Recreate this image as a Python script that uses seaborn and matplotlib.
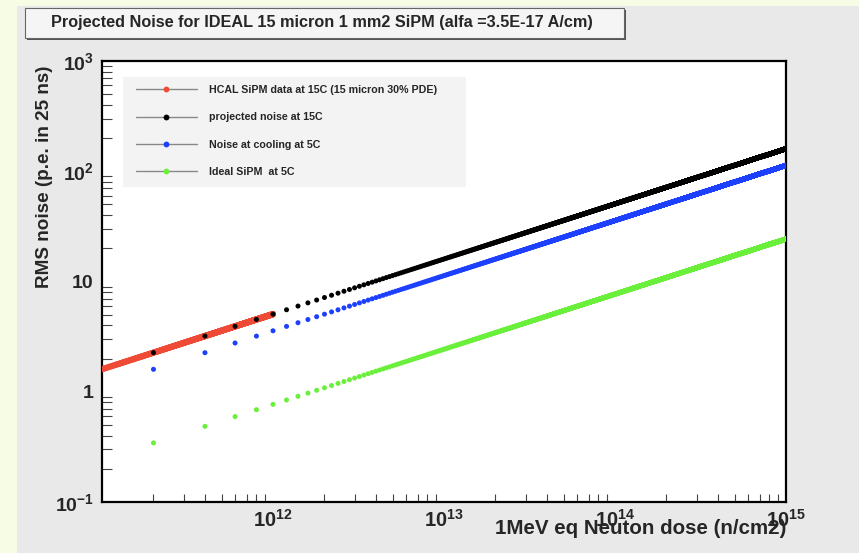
import numpy as np
import pandas as pd
import matplotlib
matplotlib.use("Agg")
import matplotlib.pyplot as plt
from matplotlib.patches import Rectangle
from matplotlib.lines import Line2D
from matplotlib.ticker import FixedLocator, FixedFormatter, LogLocator, NullFormatter
import seaborn as sns

# ---- data -------------------------------------------------------------
# fluence grid of the projection (n/cm2) and of the measured HCAL points
dose_step = 2e11
dose_max = 1e15
hcal_dose_min = 1e11
hcal_dose_max = 1e12
hcal_dose_step = 2e9

# RMS noise (p.e. in 25 ns) at the reference fluence for each curve
reference_dose = 1e15
hcal_noise_at_ref = 160.0        # HCAL SiPM data at 15C, same scale as projection
projected_noise_at_ref = 160.0   # projected noise at 15C
cooled_noise_at_ref = 113.0      # noise with cooling at 5C
ideal_noise_at_ref = 24.3        # ideal SiPM at 5C

series_labels = [
    "HCAL SiPM data at 15C (15 micron 30% PDE)",
    "projected noise at 15C",
    "Noise at cooling at 5C",
    "Ideal SiPM  at 5C",
]
series_colors = ["#ee4a35", "#000000", "#1d40ff", "#6aef3a"]

y_ticks = [0.1, 1, 10, 100, 1000]
y_tick_labels = [r"$10^{-1}$", "1", "10", r"$10^{2}$", r"$10^{3}$"]
x_ticks = [1e12, 1e13, 1e14, 1e15]
x_tick_labels = [r"$10^{12}$", r"$10^{13}$", r"$10^{14}$", r"$10^{15}$"]


def sqrt_noise(dose, noise_at_ref):
    # shot noise of the radiation-induced dark current grows as sqrt(fluence)
    return noise_at_ref * np.sqrt(dose / reference_dose)


dose = np.arange(dose_step, dose_max + 1, dose_step)
hcal_dose = np.arange(hcal_dose_min, hcal_dose_max + 1, hcal_dose_step)

frames = [
    pd.DataFrame({"dose": hcal_dose, "noise": sqrt_noise(hcal_dose, hcal_noise_at_ref)}),
    pd.DataFrame({"dose": dose, "noise": sqrt_noise(dose, projected_noise_at_ref)}),
    pd.DataFrame({"dose": dose, "noise": sqrt_noise(dose, cooled_noise_at_ref)}),
    pd.DataFrame({"dose": dose, "noise": sqrt_noise(dose, ideal_noise_at_ref)}),
]
marker_sizes = [20, 13, 13, 13]

# ---- style ------------------------------------------------------------
sns.set_style("white")
plt.rcParams["font.family"] = ["Liberation Sans", "DejaVu Sans"]
plt.rcParams["font.weight"] = "bold"
plt.rcParams["mathtext.fontset"] = "custom"
plt.rcParams["mathtext.rm"] = "Liberation Sans:bold"
plt.rcParams["mathtext.bf"] = "Liberation Sans:bold"
plt.rcParams["mathtext.it"] = "Liberation Sans:bold"
plt.rcParams["mathtext.default"] = "bf"

W, H = 859, 553
fig = plt.figure(figsize=(W / 100, H / 100), dpi=100)
fig.patch.set_facecolor("#e9e9e9")


def fx(px):
    return px / W


def fy(py):
    return 1 - py / H


# pale yellow margins of the canvas
fig.patches.append(Rectangle((0, 0), fx(17), 1, transform=fig.transFigure,
                             facecolor="#f7fde4", edgecolor="none", zorder=0))
fig.patches.append(Rectangle((0, fy(6)), 1, 1 - fy(6), transform=fig.transFigure,
                             facecolor="#f7fde4", edgecolor="none", zorder=0))

ax = fig.add_axes([fx(102), fy(502), fx(786) - fx(102), fy(61) - fy(502)])
ax.set_facecolor("white")

for df, color, s in zip(frames, series_colors, marker_sizes):
    sns.scatterplot(data=df, x="dose", y="noise", color=color, s=s,
                    linewidth=0, edgecolor="none", ax=ax, legend=False, zorder=3)

ax.set_xscale("log")
ax.set_yscale("log")
ax.set_xlim(1e11, 1e15)
ax.set_ylim(0.1, 1000)

# ticks on the inside, ROOT style
ax.yaxis.set_major_locator(FixedLocator(y_ticks))
ax.yaxis.set_major_formatter(FixedFormatter(y_tick_labels))
ax.xaxis.set_major_locator(FixedLocator(x_ticks))
ax.xaxis.set_major_formatter(FixedFormatter(x_tick_labels))
ax.xaxis.set_minor_locator(LogLocator(base=10, subs=np.arange(2, 10), numticks=20))
ax.yaxis.set_minor_locator(LogLocator(base=10, subs=np.arange(2, 10), numticks=20))
ax.xaxis.set_minor_formatter(NullFormatter())
ax.yaxis.set_minor_formatter(NullFormatter())
ax.tick_params(axis="y", which="major", direction="in", length=15, width=0.8,
               color="#444444", labelsize=14, pad=6)
ax.tick_params(axis="y", which="minor", direction="in", length=7.5, width=0.8,
               color="#444444", left=True)
ax.tick_params(axis="x", which="major", direction="in", length=12, width=0.8,
               color="#444444", labelsize=14.5, pad=5)
ax.tick_params(axis="x", which="minor", direction="in", length=6, width=0.8,
               color="#444444", bottom=True)
for sp in ax.spines.values():
    sp.set_linewidth(1.6)
    sp.set_color("black")

ax.set_xlabel("")
ax.set_ylabel("")
fig.text(fx(786), fy(528), "1MeV eq Neuton dose (n/cm2)", ha="right", va="center",
         fontsize=14.8, fontweight="bold")
fig.text(fx(45), fy(66), "RMS noise (p.e. in 25 ns)", ha="center", va="top",
         rotation=90, fontsize=13.6, fontweight="bold")

# legend box
ax.add_patch(Rectangle((21 / 684, (502 - 187) / 441), 343 / 684, 110 / 441,
                       transform=ax.transAxes, facecolor="#f3f3f3",
                       edgecolor="none", zorder=2))
handles = [Line2D([], [], color="#888888", lw=1, marker="o", markersize=4.2,
                  markerfacecolor=c, markeredgewidth=0) for c in series_colors]
leg = ax.legend(handles, series_labels, loc="upper left",
                bbox_to_anchor=((136 - 102) / 684, 1 - (85 - 61) / 441),
                frameon=False, fontsize=7.7, handlelength=5.7, handletextpad=1.15,
                labelspacing=1.62, borderpad=0, borderaxespad=0, numpoints=1)
for t in leg.get_texts():
    t.set_fontweight("bold")
leg.set_zorder(4)

# title pave with shadow
fig.patches.append(Rectangle((fx(27), fy(40)), fx(626) - fx(27), fy(10) - fy(40),
                             transform=fig.transFigure, facecolor="#555555",
                             edgecolor="none", zorder=1))
fig.patches.append(Rectangle((fx(25), fy(38)), fx(624) - fx(25), fy(8) - fy(38),
                             transform=fig.transFigure, facecolor="#f5f5f5",
                             edgecolor="#666666", linewidth=0.8, zorder=2))
fig.text(fx(322), fy(23), "Projected Noise for IDEAL 15 micron 1 mm2 SiPM (alfa =3.5E-17 A/cm)",
         ha="center", va="center", fontsize=11.7, fontweight="bold", zorder=3)

fig.savefig("out.png", dpi=100, facecolor=fig.get_facecolor())
